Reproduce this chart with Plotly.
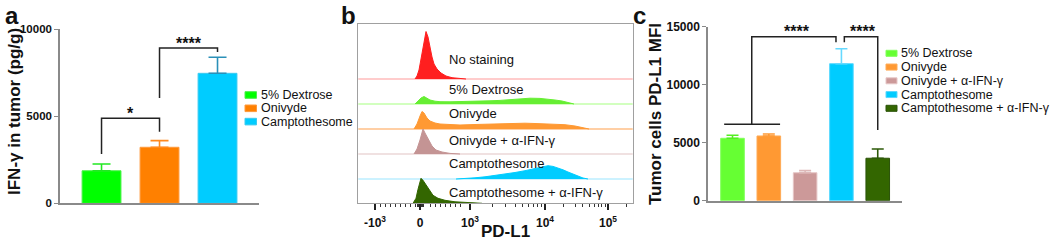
import numpy as np
import plotly.graph_objects as go

W, H = 1050, 245
FONT = "Liberation Sans, Arial, Helvetica, sans-serif"


def px(x):
    return x / W


def py(y):
    return 1 - y / H


# ---------------- Panel a data ----------------
groups_a = ["5% Dextrose", "Onivyde", "Camptothesome"]
ifng_mean = [1870, 3220, 7470]
ifng_sd = [390, 380, 920]
colors_a = ["#00ff00", "#ff8000", "#00ccff"]
edge_a = ["#4cf04c", "#ff9a3c", "#3ccaf0"]
err_a = ["#22e822", "#ff8a20", "#2a90b8"]
ticks_a = [0, 5000, 10000]
ticktext_a = ["0", "5000", "10000"]

# ---------------- Panel b data (histograms, display channel units) ----------------
hist_labels = ["No staining", "5% Dextrose", "Onivyde", "Onivyde + α-IFN-γ",
               "Camptothesome", "Camptothesome + α-IFN-γ"]
hist_colors = ["#ff1f1f", "#66ee33", "#ff9933", "#c49494", "#00ccff", "#336600"]
base_colors = ["#ff9a9a", "#a6ff80", "#ffa04d", "#e2c4c4", "#99e6ff", "#888888"]

nostain_x = [-5, -3, -1, 1, 3, 5, 6, 8, 10, 12, 14, 17, 21, 26, 32, 40, 46]
nostain_y = [0, 3, 9, 20, 33, 44, 47.5, 42, 31, 22, 15, 10, 6, 3, 1.3, 0.4, 0]
dex_x = [-5, -2, 1, 4, 7, 10, 15, 20, 30, 40, 50, 60, 70, 80, 90, 100, 110, 120, 128, 135, 142, 148, 154]
dex_y = [0, 3, 6, 7.5, 6, 4, 2.8, 2.3, 2.2, 2.3, 2.5, 2.8, 3.2, 3.6, 4.3, 5.2, 5.8, 5.6, 5.0, 4.0, 3.0, 1.6, 0]
oni_x = [-6, -3, 0, 2, 4, 7, 10, 15, 20, 30, 40, 55, 70, 85, 95, 105, 115, 125, 135, 145, 155, 160, 165, 169]
oni_y = [0, 5, 13, 17.5, 16, 11, 8, 6, 5, 4.3, 4.0, 4.5, 5.0, 5.5, 6.0, 5.8, 5.5, 5.2, 5.0, 4.3, 3.0, 2.0, 0.8, 0]
oniab_x = [-6, -3, 0, 2, 3, 5, 8, 12, 16, 22, 30, 40]
oniab_y = [0, 5, 14, 23, 25, 21, 15, 8, 4, 2, 0.6, 0]
cam_x = [36, 45, 55, 65, 75, 85, 95, 105, 112, 118, 124, 128, 133, 138, 143, 148, 153, 158, 163, 168]
cam_y = [0, 0.4, 1.2, 2.2, 3.5, 5.0, 6.5, 8.3, 9.8, 11.2, 12.6, 13.3, 12.6, 11.2, 9.2, 7.0, 4.8, 2.8, 1.0, 0]
camab_x = [-7, -4, -2, 0, 1, 3, 5, 9, 13, 18, 25, 35, 45, 55, 62]
camab_y = [0, 5, 14, 22, 25, 23, 20, 13, 8, 5, 3, 1.5, 0.7, 0.2, 0]
hist_x = [nostain_x, dex_x, oni_x, oniab_x, cam_x, camab_x]
hist_y = [nostain_y, dex_y, oni_y, oniab_y, cam_y, camab_y]
hist_offset = [124.3, 99.3, 74.3, 49.3, 24.3, 0]
label_dy = [19, 14, 15, 14, 16, 11]

b_tickvals = [-45, 0, 50, 125, 188]
b_ticktext = ["-10<sup>3</sup>", "0", "10<sup>3</sup>", "10<sup>4</sup>", "10<sup>5</sup>"]

# ---------------- Panel c data ----------------
groups_c = ["5% Dextrose", "Onivyde", "Onivyde + α-IFN-γ", "Camptothesome",
            "Camptothesome + α-IFN-γ"]
mfi_mean = [5380, 5580, 2410, 11810, 3660]
mfi_sd = [260, 170, 180, 1290, 800]
colors_c = ["#66ff33", "#ff9933", "#cc9999", "#00ccff", "#336600"]
edge_c = ["#80ff5a", "#ffaa55", "#e6c6c6", "#5ad8ff", "#2a5208"]
err_c = ["#55ee22", "#ff9933", "#ddb8b8", "#66d9ff", "#2d5a08"]
ticks_c = [0, 5000, 10000, 15000]
ticktext_c = ["0", "5000", "10000", "15000"]

fig = go.Figure()

# ---- Panel a bars ----
for i, g in enumerate(groups_a):
    fig.add_trace(go.Bar(
        x=[i], y=[ifng_mean[i]], width=0.67, name=g, showlegend=False,
        marker=dict(color=colors_a[i], line=dict(color=edge_a[i], width=1)),
        error_y=dict(type="data", array=[ifng_sd[i]], arrayminus=[0], symmetric=False,
                     color=err_a[i], thickness=1.6, width=9),
        xaxis="x", yaxis="y"))

# ---- Panel b histograms ----
for k in range(len(hist_labels)):
    xs = hist_x[k]
    ys = [hist_offset[k] + v for v in hist_y[k]]
    fig.add_trace(go.Scatter(
        x=xs, y=ys, mode="lines", fill="toself", fillcolor=hist_colors[k],
        line=dict(color=hist_colors[k], width=1), showlegend=False, hoverinfo="skip",
        xaxis="x2", yaxis="y2"))

# ---- Panel c bars ----
for i, g in enumerate(groups_c):
    fig.add_trace(go.Bar(
        x=[i], y=[mfi_mean[i]], width=0.65, name=g, showlegend=False,
        marker=dict(color=colors_c[i], line=dict(color=edge_c[i], width=1)),
        error_y=dict(type="data", array=[mfi_sd[i]], arrayminus=[0], symmetric=False,
                     color=err_c[i], thickness=1.6, width=6),
        xaxis="x3", yaxis="y3"))

shapes = []
annotations = []


def note(text, x, y, size, xref="paper", yref="paper", xanchor="center", angle=0, color="#111"):
    annotations.append(dict(text=text, xref=xref, yref=yref, x=x, y=y, xanchor=xanchor,
                            yanchor="middle", textangle=angle, showarrow=False,
                            font=dict(family=FONT, size=size, color=color)))


# lane baselines for histogram panel
for k in range(len(hist_labels) - 1):
    shapes.append(dict(type="line", xref="x2 domain", yref="y2", x0=0, x1=1,
                       y0=hist_offset[k], y1=hist_offset[k],
                       line=dict(color=base_colors[k], width=1.2), layer="below"))
for k, lab in enumerate(hist_labels):
    note(lab, 27, hist_offset[k] + label_dy[k], 13, xref="x2", yref="y2", xanchor="left")

# significance brackets, panel a
br = dict(color="#222", width=1.5)
shapes.append(dict(type="path", xref="x", yref="y", path="M 0,2830 L 0,4885 L 1,4885 L 1,4115", line=br))
shapes.append(dict(type="path", xref="x", yref="y", path="M 1,6050 L 1,8925 L 2,8925 L 2,8695", line=br))
note("<b>*</b>", 0.5, 5160, 16, xref="x", yref="y")
note("<b>****</b>", 1.5, 9190, 16, xref="x", yref="y")

# significance brackets, panel c
shapes.append(dict(type="path", xref="x3", yref="y3", path="M -0.23,6585 L 1.31,6585", line=br))
shapes.append(dict(type="path", xref="x3", yref="y3",
                   path="M 0.53,6585 L 0.53,14140 L 2.85,14140 L 2.85,13655", line=br))
shapes.append(dict(type="path", xref="x3", yref="y3",
                   path="M 3.08,13655 L 3.08,14140 L 4.0,14140 L 4.0,6095", line=br))
note("<b>****</b>", 1.77, 14600, 16, xref="x3", yref="y3")
note("<b>****</b>", 3.6, 14600, 16, xref="x3", yref="y3")

# legends
for i, g in enumerate(groups_a):
    yc = 95 + 13.3 * i
    shapes.append(dict(type="rect", xref="paper", yref="paper", x0=px(245), x1=px(256.5),
                       y0=py(yc + 3.3), y1=py(yc - 3.3), fillcolor=colors_a[i],
                       line=dict(color=edge_a[i], width=1)))
    note(g, px(258.5), py(yc), 12.5, xanchor="left")
for i, g in enumerate(groups_c):
    yc = 53.3 + 13.75 * i
    shapes.append(dict(type="rect", xref="paper", yref="paper", x0=px(886), x1=px(897),
                       y0=py(yc + 3), y1=py(yc - 3), fillcolor=colors_c[i],
                       line=dict(color=edge_c[i], width=1)))
    note(g, px(898.5), py(yc), 12.5, xanchor="left")

# titles and panel letters
note("<b>IFN-γ in tumor (pg/g)</b>", px(15), py(112), 17, angle=-90)
note("<b>Tumor cells PD-L1 MFI</b>", px(655), py(114), 17, angle=-90)
note("<b>PD-L1</b>", px(505), py(231.5), 17)
for lab, xx in [("a", 12), ("b", 348), ("c", 639)]:
    note("<b>%s</b>" % lab, px(xx), py(15.8), 24)

# minor ticks for flow axis
minor_b = list(range(-40, -4, 5)) + [-3, -2, -1, 1, 2, 3] + list(range(10, 44, 5))
minor_b += [50 + 75 * np.log10(k) for k in range(2, 10)]
minor_b += [125 + 63 * np.log10(k) for k in range(2, 10)]
minor_b += [188 + 63 * np.log10(2)]

tickfont = dict(family=FONT, size=11.5, color="#111", weight="bold")
axcol = "#8a8a8a"

fig.update_layout(
    template="none",
    width=W, height=H, margin=dict(l=0, r=0, t=0, b=0, pad=0), autosize=False,
    paper_bgcolor="white", plot_bgcolor="white", barmode="overlay",
    font=dict(family=FONT), showlegend=False,
    xaxis=dict(domain=[px(60), px(258.7)], range=[-0.716, 2.71], showline=True,
               linecolor=axcol, linewidth=1.5, showticklabels=False, ticks="",
               showgrid=False, zeroline=False, anchor="y", automargin=False),
    yaxis=dict(domain=[py(203.3), py(29.3)], range=[0, 10000], showline=True,
               linecolor=axcol, linewidth=1.5, tickvals=ticks_a, ticktext=ticktext_a,
               ticks="outside", ticklen=4, tickcolor=axcol, tickwidth=1.2, tickfont=tickfont,
               showgrid=False, zeroline=False, anchor="x", automargin=False),
    xaxis2=dict(domain=[px(358.3), px(632.7)], range=[-61.7, 212.7], showline=True,
                mirror=True, linecolor="#a0a0a0", linewidth=1.2,
                tickvals=b_tickvals, ticktext=b_ticktext, ticks="outside", ticklen=6,
                tickcolor="#222", tickwidth=1.5, ticklabelstandoff=2,
                tickfont=dict(family=FONT, size=12, color="#111", weight="bold"),
                minor=dict(tickvals=minor_b, ticks="outside", ticklen=3, tickcolor="#333",
                           tickwidth=1.2, showgrid=False),
                showgrid=False, zeroline=False, anchor="y2", automargin=False),
    yaxis2=dict(domain=[py(203.3), py(24)], range=[0, 179.3], showline=True, mirror=True,
                linecolor="#a0a0a0", linewidth=1.2, showticklabels=False, ticks="",
                showgrid=False, zeroline=False, anchor="x2", automargin=False),
    xaxis3=dict(domain=[px(708), px(901.7)], range=[-0.675, 4.66], showline=True,
                linecolor=axcol, linewidth=1.5, showticklabels=False, ticks="",
                showgrid=False, zeroline=False, anchor="y3", automargin=False),
    yaxis3=dict(domain=[py(200.7), py(26.7)], range=[0, 15000], showline=True,
                linecolor=axcol, linewidth=1.5, tickvals=ticks_c, ticktext=ticktext_c,
                ticks="outside", ticklen=4, tickcolor=axcol, tickwidth=1.2,
                tickfont=dict(family=FONT, size=12, color="#111", weight="bold"),
                showgrid=False, zeroline=False, anchor="x3", automargin=False),
    shapes=shapes, annotations=annotations,
)

fig.write_html("out.html", config={"displayModeBar": False},
               post_script="document.body.style.margin='0px';")
